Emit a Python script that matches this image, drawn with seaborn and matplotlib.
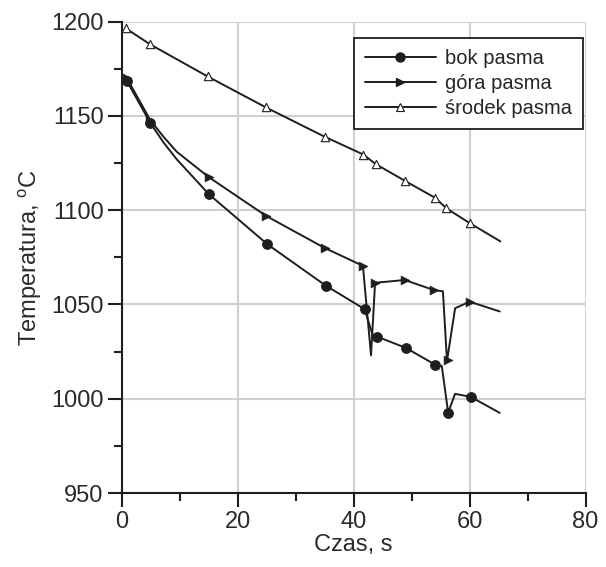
import matplotlib
matplotlib.use("Agg")
import matplotlib.pyplot as plt
from matplotlib.lines import Line2D
from matplotlib.ticker import MultipleLocator
import seaborn as sns
import pandas as pd

# ---- data ----
bok_line_x = [0.9, 4.9, 7.2, 9.5, 15.0, 25.1, 35.2, 41.9, 43.3, 44.0, 49.0, 54.1, 55.2, 56.3, 57.5, 60.2, 65.2]
bok_line_y = [1168.5, 1146.5, 1136.0, 1127.0, 1108.6, 1082.0, 1060.0, 1047.5, 1033.5, 1033.0, 1027.0, 1018.0, 1017.4, 992.7, 1002.6, 1001.0, 992.5]
bok_mark_x = [0.9, 4.9, 15.0, 25.1, 35.2, 41.9, 44.0, 49.0, 54.1, 56.3, 60.2]
bok_mark_y = [1168.5, 1146.5, 1108.6, 1082.0, 1060.0, 1047.5, 1033.0, 1027.0, 1018.0, 992.7, 1001.0]

gora_line_x = [0.9, 4.9, 7.2, 9.5, 15.0, 24.9, 35.0, 41.6, 43.0, 43.7, 48.8, 53.9, 55.4, 56.1, 57.5, 60.0, 65.2]
gora_line_y = [1170.0, 1148.0, 1139.0, 1131.0, 1117.6, 1097.0, 1080.0, 1070.5, 1023.0, 1061.5, 1063.0, 1057.6, 1057.0, 1020.0, 1048.0, 1051.5, 1046.3]
gora_mark_x = [0.9, 4.9, 15.0, 24.9, 35.0, 41.6, 43.7, 48.8, 53.9, 56.2, 60.0]
gora_mark_y = [1170.0, 1148.0, 1117.6, 1097.0, 1080.0, 1070.5, 1061.5, 1063.0, 1057.6, 1020.6, 1051.5]

srodek_line_x = [0.7, 4.9, 14.8, 24.9, 35.0, 41.7, 43.8, 48.9, 54.1, 56.0, 60.1, 65.3]
srodek_line_y = [1196.5, 1188.0, 1171.0, 1154.5, 1139.0, 1129.5, 1124.5, 1115.5, 1106.5, 1101.0, 1093.0, 1083.5]
srodek_mark_x = srodek_line_x[:-1]
srodek_mark_y = srodek_line_y[:-1]

labels = ["bok pasma", "góra pasma", "środek pasma"]
x_ticks = [0, 20, 40, 60, 80]
y_ticks = [950, 1000, 1050, 1100, 1150, 1200]

# ---- style ----
sns.set_style("white")
plt.rcParams["font.family"] = ["Liberation Sans", "DejaVu Sans"]
plt.rcParams["mathtext.fontset"] = "custom"
plt.rcParams["mathtext.rm"] = "Liberation Sans"

LC = "#1e1e1e"
TC = "#2a2a2a"

fig = plt.figure(figsize=(6.06, 5.67), dpi=100)
ax = fig.add_axes([0.2008, 0.1305, 0.7655, 0.8312])

lines_df = pd.concat([
    pd.DataFrame({"x": bok_line_x, "y": bok_line_y, "s": labels[0]}),
    pd.DataFrame({"x": gora_line_x, "y": gora_line_y, "s": labels[1]}),
    pd.DataFrame({"x": srodek_line_x, "y": srodek_line_y, "s": labels[2]}),
])
sns.lineplot(data=lines_df, x="x", y="y", units="s", estimator=None, sort=False,
             color=LC, linewidth=1.4, ax=ax, legend=False, zorder=3)

sns.scatterplot(x=bok_mark_x, y=bok_mark_y, marker="o", s=48, color=LC,
                edgecolor=LC, linewidth=0.8, ax=ax, legend=False, zorder=4)
sns.scatterplot(x=gora_mark_x, y=gora_mark_y, marker=">", s=40, color=LC,
                edgecolor=LC, linewidth=0.5, ax=ax, legend=False, zorder=4)
sns.scatterplot(x=srodek_mark_x, y=srodek_mark_y, marker="^", s=36, color="white",
                edgecolor=LC, linewidth=0.8, ax=ax, legend=False, zorder=4)

ax.set_xlim(0, 80)
ax.set_ylim(950, 1200)
ax.set_xticks(x_ticks)
ax.set_yticks(y_ticks)
ax.xaxis.set_minor_locator(MultipleLocator(10))
ax.yaxis.set_minor_locator(MultipleLocator(25))
ax.grid(True, which="major", color="#d0d0d0", linewidth=1.5, zorder=0)
ax.set_axisbelow(True)

for side in ("top", "right"):
    ax.spines[side].set_visible(False)
for side in ("left", "bottom"):
    ax.spines[side].set_color(LC)
    ax.spines[side].set_linewidth(1.5)

ax.tick_params(which="major", direction="out", length=10, width=1.5, color=LC,
               labelsize=17, pad=3, labelcolor=TC)
ax.tick_params(which="minor", direction="out", length=6, width=1.5, color=LC)
ax.tick_params(axis="x", which="both", bottom=True, top=False)
ax.tick_params(axis="y", which="both", left=True, right=False)

ax.set_xlabel("Czas, s", fontsize=17, color=TC, labelpad=1)
ax.set_ylabel("Temperatura, $^{\\mathrm{o}}$C", fontsize=17, color=TC, labelpad=5)

handles = [
    Line2D([], [], color=LC, lw=1.4, marker="o", markersize=6.5, markerfacecolor=LC),
    Line2D([], [], color=LC, lw=1.4, marker=">", markersize=6, markerfacecolor=LC),
    Line2D([], [], color=LC, lw=1.4, marker="^", markersize=5.5, markerfacecolor="white",
           markeredgewidth=0.8),
]
leg = ax.legend(handles, labels, loc="upper right", bbox_to_anchor=(0.994, 0.966),
                borderaxespad=0, fontsize=14.5, frameon=True, fancybox=False,
                handlelength=3.5, handletextpad=0.45, labelspacing=0.3,
                borderpad=0.55, edgecolor=LC)
leg.get_frame().set_linewidth(1.3)
leg.get_frame().set_facecolor("white")
leg.get_frame().set_alpha(1)

fig.savefig("out.png", dpi=100)
